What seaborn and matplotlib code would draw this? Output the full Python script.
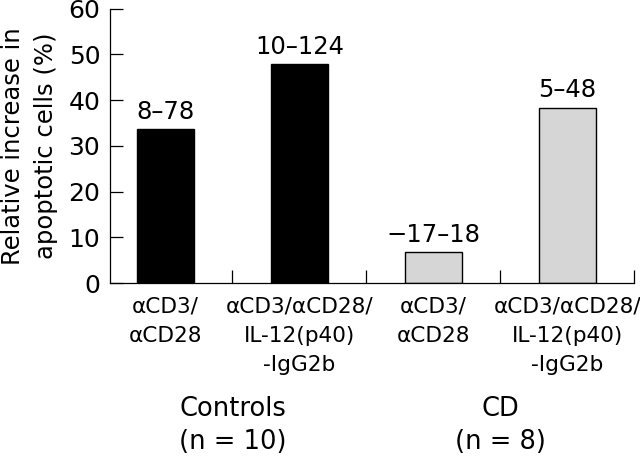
import matplotlib
matplotlib.use("Agg")
import matplotlib.pyplot as plt
import matplotlib.transforms as mtransforms
import seaborn as sns

# data
conditions = ["\u03b1CD3/\n\u03b1CD28",
              "\u03b1CD3/\u03b1CD28/\nIL-12(p40)\n-IgG2b",
              "\u03b1CD3/\n\u03b1CD28",
              "\u03b1CD3/\u03b1CD28/\nIL-12(p40)\n-IgG2b"]
increase = [33.6, 47.8, 6.7, 38.3]
ranges = ["8\u201378", "10\u2013124", "\u221217\u201318", "5\u201348"]
bar_colors = ["#000000", "#000000", "#d6d6d6", "#d6d6d6"]
groups = ["Controls\n(n = 10)", "CD\n(n = 8)"]
group_pos = [0.5, 2.5]

sns.set_style("ticks")
plt.rcParams["font.family"] = ["DejaVu Sans"]
plt.rcParams.update({"text.color": "black", "axes.labelcolor": "black",
                     "xtick.color": "black", "ytick.color": "black",
                     "axes.edgecolor": "black"})

fig = plt.figure(figsize=(6.4, 4.59), dpi=100)
ax = fig.add_axes([0.172, 0.3834, 0.819, 0.598])

keys = [f"c{i}" for i in range(len(conditions))]
sns.barplot(x=keys, y=increase, hue=keys, palette=bar_colors, legend=False,
            width=0.425, edgecolor="black", linewidth=1, ax=ax)

ax.set_xlim(-0.414, 3.5)
ax.set_ylim(0, 60)
ax.set_yticks(range(0, 61, 10))
ax.set_xticks([0, 1, 2, 3])
ax.set_xticklabels(conditions, fontsize=15.6, linespacing=1.55)
ax.set_xticks([0.5, 1.5, 2.5, 3.5], minor=True)
ax.tick_params(axis="x", which="major", length=0, pad=10)
ax.tick_params(axis="x", which="minor", direction="in", length=9.5, width=0.9)
ax.tick_params(axis="y", direction="in", length=9.5, width=0.9,
               labelsize=18, pad=7)
ax.set_ylabel("Relative increase in\napoptotic cells (%)", fontsize=17.5,
              linespacing=1.45)
ax.yaxis.set_label_coords(-0.1, 0.5)
ax.set_xlabel("")
sns.despine(ax=ax)
for s in ["left", "bottom"]:
    ax.spines[s].set_linewidth(0.9)

# range labels above bars
for i, (v, r) in enumerate(zip(increase, ranges)):
    ax.annotate(r, (i, v), xytext=(0, 4), textcoords="offset points",
                ha="center", va="bottom", fontsize=17.5)

# group labels
trans = mtransforms.blended_transform_factory(ax.transData, ax.transAxes)
for g, p in zip(groups, group_pos):
    ax.text(p, -0.52, g, transform=trans, ha="center", va="center",
            fontsize=18.5, linespacing=1.35)

fig.savefig("out.png", dpi=100)
